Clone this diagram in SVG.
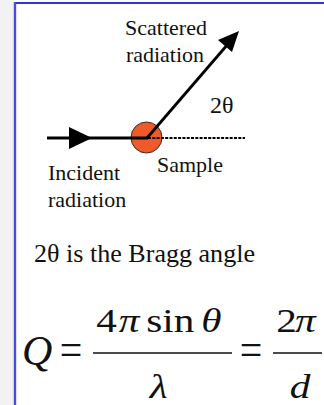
<svg xmlns="http://www.w3.org/2000/svg" width="324" height="405" viewBox="0 0 324 405">
  <style>
    .lbl { font-family: "Liberation Serif", "Times New Roman", serif; font-size: 22px; fill: #111; }
    .cap { font-family: "Liberation Serif", "Times New Roman", serif; font-size: 25px; fill: #111; }
    .eq { font-family: "Liberation Serif", "Times New Roman", serif; font-size: 33px; fill: #111; }
    .it { font-style: italic; }
    .line { stroke: #000; fill: none; }
    .head { fill: #000; stroke: none; }
  </style>
  <rect x="0" y="0" width="324" height="405" fill="#ffffff"/>
  <rect x="0" y="0" width="14" height="405" fill="#f2f2f2"/>
  <g id="frame">
    <line x1="15" y1="3" x2="324" y2="3" stroke="#3535d0" stroke-width="2.2"/>
    <line x1="15" y1="2" x2="15" y2="405" stroke="#4a4ae6" stroke-width="2.4"/>
  </g>
  <g id="sample">
    <circle cx="146.5" cy="137.5" r="15.5" fill="#f05a28" stroke="#3a2a20" stroke-width="1"/>
    <text class="lbl" x="157" y="172">Sample</text>
  </g>
  <g id="connectors">
    <line class="line" x1="47" y1="138" x2="148" y2="138" stroke-width="3"/>
    <polygon class="head" points="69,127 92,138 69,149"/>
    <line class="line" x1="148" y1="138" x2="245" y2="138" stroke-width="2" stroke-dasharray="3 1.3"/>
    <line class="line" x1="147" y1="138" x2="228" y2="44" stroke-width="2.8"/>
    <polygon class="head" points="239,31 218,40 232,52"/>
  </g>
  <g id="scattered-label">
    <text class="lbl" x="166" y="35" text-anchor="middle">Scattered</text>
    <text class="lbl" x="165" y="62" text-anchor="middle">radiation</text>
  </g>
  <g id="angle-label">
    <text class="lbl" x="210" y="113" style="font-size:24px">2θ</text>
  </g>
  <g id="incident-label">
    <text class="lbl" x="48" y="180">Incident</text>
    <text class="lbl" x="48" y="207">radiation</text>
  </g>
  <g id="caption">
    <text class="cap" x="34" y="262" textLength="221" lengthAdjust="spacingAndGlyphs">2θ is the Bragg angle</text>
  </g>
  <g id="equation">
    <text class="eq it" x="22" y="365" style="font-size:42px">Q</text>
    <text class="eq" transform="translate(71,353) scale(1,1.15)" x="0" y="10.8" text-anchor="middle" style="font-size:40px">=</text>
    <text class="eq" transform="translate(251,353) scale(1,1.15)" x="0" y="10.8" text-anchor="middle" style="font-size:40px">=</text>
    <line x1="93" y1="353" x2="232" y2="353" stroke="#111" stroke-width="1.6"/>
    <line x1="273" y1="353" x2="322" y2="353" stroke="#111" stroke-width="1.6"/>
    <g transform="scale(1.25,1)">
      <text class="eq" y="332"><tspan x="77">4</tspan><tspan x="95" class="it">π</tspan><tspan x="117">sin</tspan><tspan x="161" class="it">θ</tspan></text>
      <text class="eq it" x="127" y="398" text-anchor="middle">λ</text>
      <text class="eq" y="332"><tspan x="221">2</tspan><tspan x="236" class="it">π</tspan></text>
      <text class="eq it" x="240" y="398" text-anchor="middle">d</text>
    </g>
  </g>
</svg>
